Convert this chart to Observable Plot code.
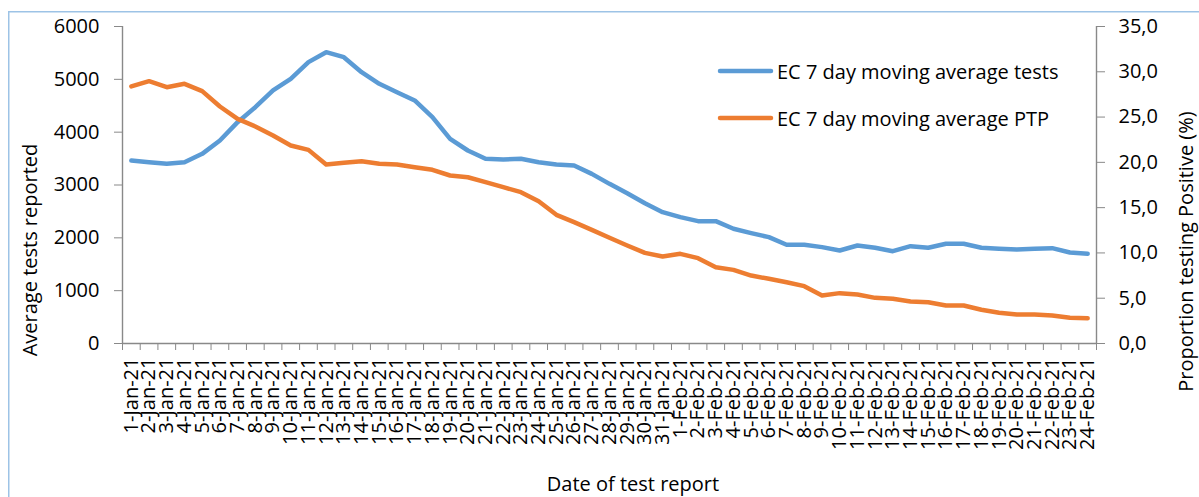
<!DOCTYPE html>
<html><head><meta charset="utf-8">
<script src="https://cdn.jsdelivr.net/npm/d3@7"></script>
<script src="https://cdn.jsdelivr.net/npm/@observablehq/plot@0.6"></script>
<style>
html,body{margin:0;padding:0;background:#fff;}
body{width:1199px;height:497px;overflow:hidden;font-family:"Open Sans",sans-serif;}
#wrap{position:relative;width:1199px;height:497px;}
#wrap svg{position:absolute;left:0;top:0;}
</style>
</head><body>
<div id="wrap"></div>
<script>
// ---- data ----
const dates = ["1-Jan-21","2-Jan-21","3-Jan-21","4-Jan-21","5-Jan-21","6-Jan-21","7-Jan-21","8-Jan-21","9-Jan-21","10-Jan-21",
"11-Jan-21","12-Jan-21","13-Jan-21","14-Jan-21","15-Jan-21","16-Jan-21","17-Jan-21","18-Jan-21","19-Jan-21","20-Jan-21",
"21-Jan-21","22-Jan-21","23-Jan-21","24-Jan-21","25-Jan-21","26-Jan-21","27-Jan-21","28-Jan-21","29-Jan-21","30-Jan-21",
"31-Jan-21","1-Feb-21","2-Feb-21","3-Feb-21","4-Feb-21","5-Feb-21","6-Feb-21","7-Feb-21","8-Feb-21","9-Feb-21",
"10-Feb-21","11-Feb-21","12-Feb-21","13-Feb-21","14-Feb-21","15-Feb-21","16-Feb-21","17-Feb-21","18-Feb-21","19-Feb-21",
"20-Feb-21","21-Feb-21","22-Feb-21","23-Feb-21","24-Feb-21"];
const tests = [3464,3432,3401,3432,3590,3842,4189,4473,4789,5010,
5325,5514,5419,5135,4915,4757,4600,4284,3874,3653,
3496,3483,3496,3432,3388,3369,3211,3022,2845,2656,
2486,2391,2316,2316,2171,2089,2013,1868,1868,1824,
1761,1855,1811,1747,1842,1811,1887,1887,1811,1792,
1780,1792,1805,1722,1698];
const ptp = [28.38,28.96,28.30,28.67,27.86,26.17,24.80,23.96,22.97,21.86,
21.38,19.76,19.95,20.13,19.84,19.76,19.47,19.18,18.55,18.36,
17.81,17.26,16.71,15.71,14.21,13.40,12.55,11.67,10.82,10.01,
9.60,9.90,9.42,8.42,8.13,7.50,7.14,6.77,6.33,5.30,
5.56,5.41,5.04,4.93,4.64,4.56,4.20,4.20,3.72,3.39,
3.20,3.20,3.09,2.84,2.80];
const leftTicks = [0,1000,2000,3000,4000,5000,6000];
const rightTicks = [0,5,10,15,20,25,30,35];
const seriesNames = ["EC 7 day moving average tests","EC 7 day moving average PTP"];
const colors = ["#5b9bd5","#ed7d31"];

const yMax = leftTicks[leftTicks.length-1];
const pMax = rightTicks[rightTicks.length-1];
const k = yMax / pMax;
const rows = dates.map((d,i)=>({i, d, tests: tests[i], ptp: ptp[i]}));
const idx = dates.map((_,i)=>i);
const xDom = [-0.5, dates.length-0.5];
const bounds = idx.map(i=>i-0.5).concat([dates.length-0.5]);
const axisColor = "#898989";

const chart = Plot.plot({
  width:1199, height:497,
  marginLeft:122, marginRight:103, marginTop:26, marginBottom:154,
  x:{domain:xDom},
  y:{domain:[0,yMax]},
  style:{fontFamily:"'Open Sans',sans-serif", fontSize:"20px", color:"#000", background:"#fff"},
  marks:[
    Plot.ruleX(xDom, {stroke:axisColor, strokeWidth:1.4}),
    Plot.ruleY([0], {stroke:axisColor, strokeWidth:1.4}),
    Plot.axisY({ticks:leftTicks, tickFormat:d=>String(d), tickSize:8, tickPadding:15, stroke:axisColor, fill:"#000", label:null, fontSize:20}),
    Plot.axisY({anchor:"right", ticks:rightTicks.map(v=>v*k), tickFormat:v=>(v/k).toFixed(1).replace(".",","),
      tickSize:8, tickPadding:14, stroke:axisColor, fill:"#000", label:null, fontSize:20}),
    Plot.axisX({ticks:bounds, tickFormat:()=>"", tickSize:7, stroke:axisColor, label:null}),
    Plot.axisX({ticks:idx, tickFormat:i=>dates[i], tickRotate:-90, tickSize:0, tickPadding:14, fill:"#000", label:null, fontSize:20}),
    Plot.line(rows, {x:"i", y:"tests", stroke:colors[0], strokeWidth:4.5, strokeLinejoin:"round", strokeLinecap:"round"}),
    Plot.line(rows, {x:"i", y:d=>d.ptp*k, stroke:colors[1], strokeWidth:4.5, strokeLinejoin:"round", strokeLinecap:"round"})
  ]
});
document.getElementById("wrap").appendChild(chart);

// overlay: border, axis titles, legend
const ov = d3.select("#wrap").append("svg")
  .attr("width",1199).attr("height",497)
  .style("font-family","'Open Sans',sans-serif").style("font-size","20px");
ov.append("rect").attr("x",8.75).attr("y",11.75).attr("width",1300).attr("height",600)
  .attr("fill","none").attr("stroke","#9dc3e6").attr("stroke-width",1.5);
ov.append("text").attr("x",633).attr("y",491).attr("text-anchor","middle").attr("fill","#000").text("Date of test report");
ov.append("text").attr("transform","translate(37,250) rotate(-90)").attr("text-anchor","middle").attr("fill","#000").text("Average tests reported");
ov.append("text").attr("transform","translate(1193,251.5) rotate(-90)").attr("text-anchor","middle").attr("fill","#000").text("Proportion testing Positive (%)");
const legY = [71, 118];
seriesNames.forEach((name,j)=>{
  ov.append("line").attr("x1",720).attr("x2",771).attr("y1",legY[j]).attr("y2",legY[j])
    .attr("stroke",colors[j]).attr("stroke-width",4.5).attr("stroke-linecap","round");
  ov.append("text").attr("x",777).attr("y",legY[j]+7.5).attr("fill","#000").text(name);
});
</script>
</body></html>
